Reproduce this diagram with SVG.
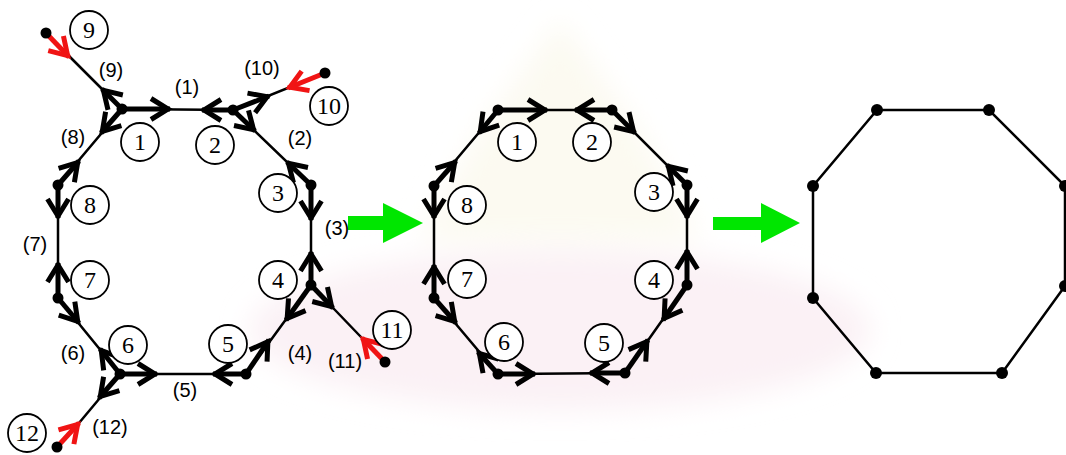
<svg xmlns="http://www.w3.org/2000/svg" width="1066" height="455" viewBox="0 0 1066 455">
<style>
.e{stroke:#000;stroke-width:2.5;fill:none;stroke-linecap:round}
.a{stroke:#000;stroke-width:5;fill:none;marker-end:url(#hb)}
.r{stroke:#f01414;stroke-width:5;fill:none;marker-end:url(#hr)}
.d{fill:#000}
.c{fill:#fff;stroke:#000;stroke-width:1.8}
.n{font-family:"Liberation Serif","Times New Roman",serif;font-size:24px;text-anchor:middle;fill:#000}
.l{font-family:"Liberation Sans",Arial,sans-serif;font-size:20px;text-anchor:middle;fill:#000}
.g{fill:#00e600}
</style>
<defs>
<marker id="hb" markerUnits="userSpaceOnUse" markerWidth="40" markerHeight="40" viewBox="-25 -20 40 40" refX="0" refY="0" orient="auto" overflow="visible">
<path d="M-19,-10.5 L-2,0 L-19,10.5" fill="none" stroke="#000" stroke-width="5"/>
</marker>
<marker id="hr" markerUnits="userSpaceOnUse" markerWidth="40" markerHeight="40" viewBox="-25 -20 40 40" refX="0" refY="0" orient="auto" overflow="visible">
<path d="M-19,-10.5 L-2,0 L-19,10.5" fill="none" stroke="#f01414" stroke-width="5"/>
</marker>
<filter id="blur" x="-20%" y="-20%" width="140%" height="140%"><feGaussianBlur stdDeviation="14"/></filter>
</defs>
<rect width="1066" height="455" fill="#fff"/>
<g id="watermark" filter="url(#blur)">
<path d="M420,240 L480,130 L560,20 L640,130 L700,240 Z" fill="#fcfaf1"/>
<ellipse cx="560" cy="330" rx="310" ry="80" fill="#fbf1f5"/>
</g>
<g id="connectors">
<polygon class="e" points="122,109 233,110 311,185 311,285 246,374 120,374 58,298 58,185"/>
<line class="e" x1="122" y1="109" x2="46" y2="33"/>
<line class="e" x1="233" y1="110" x2="325" y2="73"/>
<line class="e" x1="311" y1="285" x2="385" y2="362"/>
<line class="e" x1="120" y1="374" x2="79" y2="423"/>
<line class="e" x1="79" y1="423" x2="57" y2="447"/>
<line class="a" x1="122" y1="109" x2="170" y2="109"/>
<line class="a" x1="122" y1="109" x2="101" y2="133"/>
<line class="a" x1="122" y1="109" x2="102" y2="89"/>
<line class="a" x1="233" y1="110" x2="202" y2="110"/>
<line class="a" x1="233" y1="110" x2="269" y2="96"/>
<line class="a" x1="233" y1="110" x2="255" y2="131"/>
<line class="a" x1="311" y1="185" x2="287" y2="162"/>
<line class="a" x1="311" y1="185" x2="311" y2="220"/>
<line class="a" x1="311" y1="285" x2="311" y2="252"/>
<line class="a" x1="311" y1="285" x2="286" y2="320"/>
<line class="a" x1="311" y1="285" x2="333" y2="308"/>
<line class="a" x1="246" y1="374" x2="213" y2="374"/>
<line class="a" x1="246" y1="374" x2="269" y2="340"/>
<line class="a" x1="120" y1="374" x2="157" y2="374"/>
<line class="a" x1="120" y1="374" x2="100" y2="349"/>
<line class="a" x1="120" y1="374" x2="99" y2="398"/>
<line class="a" x1="58" y1="298" x2="58" y2="263"/>
<line class="a" x1="58" y1="298" x2="79" y2="323"/>
<line class="a" x1="58" y1="185" x2="58" y2="218"/>
<line class="a" x1="58" y1="185" x2="79" y2="161"/>
<line class="r" x1="46" y1="33" x2="69" y2="57"/>
<line class="r" x1="325" y1="73" x2="288" y2="88"/>
<line class="r" x1="385" y1="362" x2="362" y2="338"/>
<line class="r" x1="57" y1="447" x2="79" y2="423"/>
<polygon class="e" points="498,110 612,110 687,185 687,285 625,373 498,374 434,298 434,186"/>
<line class="a" x1="498" y1="110" x2="547" y2="110"/>
<line class="a" x1="498" y1="110" x2="479" y2="133"/>
<line class="a" x1="612" y1="110" x2="575" y2="110"/>
<line class="a" x1="612" y1="110" x2="635" y2="133"/>
<line class="a" x1="687" y1="185" x2="667" y2="165"/>
<line class="a" x1="687" y1="185" x2="687" y2="218"/>
<line class="a" x1="687" y1="285" x2="687" y2="250"/>
<line class="a" x1="687" y1="285" x2="663" y2="320"/>
<line class="a" x1="625" y1="373" x2="648" y2="340"/>
<line class="a" x1="625" y1="373" x2="590" y2="373"/>
<line class="a" x1="498" y1="374" x2="535" y2="374"/>
<line class="a" x1="498" y1="374" x2="478" y2="352"/>
<line class="a" x1="434" y1="298" x2="456" y2="323"/>
<line class="a" x1="434" y1="298" x2="434" y2="265"/>
<line class="a" x1="434" y1="186" x2="434" y2="218"/>
<line class="a" x1="434" y1="186" x2="456" y2="161"/>
<polygon class="e" points="877,110 989,110 1065,186 1065,286 1002,373 876,373 813,298 813,186"/>
<polygon class="g" points="348,216 383,216 383,203 423,223 383,243 383,230 348,230"/>
<polygon class="g" points="713,217 761,217 761,203 800,223 761,243 761,230 713,230"/>
</g>
<g id="edge-labels">
<text class="l" x="111" y="77">(9)</text>
<text class="l" x="187" y="94">(1)</text>
<text class="l" x="262" y="75">(10)</text>
<text class="l" x="73" y="144">(8)</text>
<text class="l" x="300" y="145">(2)</text>
<text class="l" x="35" y="251">(7)</text>
<text class="l" x="337" y="235">(3)</text>
<text class="l" x="73" y="360">(6)</text>
<text class="l" x="300" y="360">(4)</text>
<text class="l" x="345" y="368">(11)</text>
<text class="l" x="185" y="397">(5)</text>
<text class="l" x="110" y="434">(12)</text>
</g>
<g id="left-vertices">
<g id="L1"><circle class="d" cx="122" cy="109" r="5.5"/></g>
<g id="L2"><circle class="d" cx="233" cy="110" r="5.5"/></g>
<g id="L3"><circle class="d" cx="311" cy="185" r="5.5"/></g>
<g id="L4"><circle class="d" cx="311" cy="285" r="5.5"/></g>
<g id="L5"><circle class="d" cx="246" cy="374" r="5.5"/></g>
<g id="L6"><circle class="d" cx="120" cy="374" r="5.5"/></g>
<g id="L7"><circle class="d" cx="58" cy="298" r="5.5"/></g>
<g id="L8"><circle class="d" cx="58" cy="185" r="5.5"/></g>
<g id="P9"><circle class="d" cx="46" cy="33" r="5.5"/></g>
<g id="P10"><circle class="d" cx="325" cy="73" r="5.5"/></g>
<g id="P11"><circle class="d" cx="385" cy="362" r="5.5"/></g>
<g id="P12"><circle class="d" cx="57" cy="447" r="5.5"/></g>
</g>
<g id="left-labels">
<g id="LC1"><circle class="c" cx="140" cy="142" r="19"/><text class="n" x="140" y="150">1</text></g>
<g id="LC2"><circle class="c" cx="215" cy="145" r="19"/><text class="n" x="215" y="153">2</text></g>
<g id="LC3"><circle class="c" cx="278" cy="193" r="19"/><text class="n" x="278" y="201">3</text></g>
<g id="LC4"><circle class="c" cx="278" cy="280" r="19"/><text class="n" x="278" y="288">4</text></g>
<g id="LC5"><circle class="c" cx="228" cy="344" r="19"/><text class="n" x="228" y="352">5</text></g>
<g id="LC6"><circle class="c" cx="128" cy="345" r="19"/><text class="n" x="128" y="353">6</text></g>
<g id="LC7"><circle class="c" cx="90" cy="280" r="19"/><text class="n" x="90" y="288">7</text></g>
<g id="LC8"><circle class="c" cx="90" cy="205" r="19"/><text class="n" x="90" y="213">8</text></g>
<g id="LC9"><circle class="c" cx="89" cy="30" r="19"/><text class="n" x="89" y="38">9</text></g>
<g id="LC10"><circle class="c" cx="329" cy="106" r="19"/><text class="n" x="329" y="114">10</text></g>
<g id="LC11"><circle class="c" cx="392" cy="330" r="19"/><text class="n" x="392" y="338">11</text></g>
<g id="LC12"><circle class="c" cx="27" cy="433" r="19"/><text class="n" x="27" y="441">12</text></g>
</g>
<g id="middle-vertices">
<g id="M1"><circle class="d" cx="498" cy="110" r="5.5"/></g>
<g id="M2"><circle class="d" cx="612" cy="110" r="5.5"/></g>
<g id="M3"><circle class="d" cx="687" cy="185" r="5.5"/></g>
<g id="M4"><circle class="d" cx="687" cy="285" r="5.5"/></g>
<g id="M5"><circle class="d" cx="625" cy="373" r="5.5"/></g>
<g id="M6"><circle class="d" cx="498" cy="374" r="5.5"/></g>
<g id="M7"><circle class="d" cx="434" cy="298" r="5.5"/></g>
<g id="M8"><circle class="d" cx="434" cy="186" r="5.5"/></g>
</g>
<g id="middle-labels">
<g id="MC1"><circle class="c" cx="517" cy="142" r="19"/><text class="n" x="517" y="150">1</text></g>
<g id="MC2"><circle class="c" cx="592" cy="142" r="19"/><text class="n" x="592" y="150">2</text></g>
<g id="MC3"><circle class="c" cx="654" cy="192" r="19"/><text class="n" x="654" y="200">3</text></g>
<g id="MC4"><circle class="c" cx="654" cy="280" r="19"/><text class="n" x="654" y="288">4</text></g>
<g id="MC5"><circle class="c" cx="604" cy="343" r="19"/><text class="n" x="604" y="351">5</text></g>
<g id="MC6"><circle class="c" cx="504" cy="342" r="19"/><text class="n" x="504" y="350">6</text></g>
<g id="MC7"><circle class="c" cx="467" cy="279" r="19"/><text class="n" x="467" y="287">7</text></g>
<g id="MC8"><circle class="c" cx="467" cy="205" r="19"/><text class="n" x="467" y="213">8</text></g>
</g>
<g id="right-vertices">
<g id="R1"><circle class="d" cx="877" cy="110" r="6"/></g>
<g id="R2"><circle class="d" cx="989" cy="110" r="6"/></g>
<g id="R3"><circle class="d" cx="1065" cy="186" r="6"/></g>
<g id="R4"><circle class="d" cx="1065" cy="286" r="6"/></g>
<g id="R5"><circle class="d" cx="1002" cy="373" r="6"/></g>
<g id="R6"><circle class="d" cx="876" cy="373" r="6"/></g>
<g id="R7"><circle class="d" cx="813" cy="298" r="6"/></g>
<g id="R8"><circle class="d" cx="813" cy="186" r="6"/></g>
</g>
</svg>
